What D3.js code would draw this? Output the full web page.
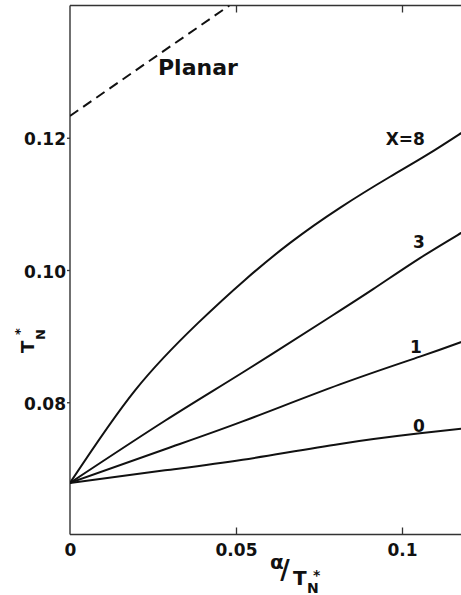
<!DOCTYPE html>
<html>
<head>
<meta charset="utf-8">
<script src="https://cdn.jsdelivr.net/npm/d3@7.9.0/dist/d3.min.js"></script>
<style>
  html, body { margin: 0; padding: 0; background: #fff; }
  svg { display: block; }
  text { font-family: "DejaVu Sans", sans-serif; font-weight: bold; fill: #111; }
</style>
</head>
<body>
<svg id="chart" width="461" height="595"></svg>
<script>
// curves: [alpha / T_N*, T_N*]
const curveX8 = [[0, 0.0678], [0.0196, 0.0818], [0.0386, 0.0920], [0.0527, 0.0985], [0.0663, 0.1041],
  [0.0813, 0.1094], [0.0964, 0.1141], [0.1075, 0.1174], [0.1178, 0.1207], [0.12, 0.1214]];
const curveX3 = [[0, 0.0678], [0.0286, 0.0772], [0.0520, 0.0845], [0.0768, 0.0924], [0.0913, 0.0971],
  [0.1054, 0.1018], [0.1178, 0.1056], [0.12, 0.1063]];
const curveX1 = [[0, 0.0678], [0.0286, 0.0729], [0.0520, 0.0771], [0.0813, 0.0827], [0.1054, 0.0869],
  [0.1178, 0.0891], [0.12, 0.0895]];
const curveX0 = [[0, 0.0678], [0.0286, 0.0697], [0.0520, 0.0713], [0.0813, 0.0737], [0.1054, 0.0753],
  [0.1178, 0.0760], [0.12, 0.0761]];
const planar = [[0, 0.1233], [0.048, 0.14]];

const curveLabels = ['X=8', '3', '1', '0'];
const labelAnchors = [[0.1069, 0.1189], [0.1069, 0.1033], [0.1060, 0.0874], [0.1069, 0.0755]];
const planarLabel = 'Planar';

const xTicks = [0, 0.05, 0.1];
const yTicks = [0.08, 0.10, 0.12];

const svg = d3.select('#chart');

const x = d3.scaleLinear().domain([0, 0.12]).range([70, 468.4]);
const y = d3.scaleLinear().domain([0.06, 0.14]).range([534.5, 5.5]);

svg.append('defs').append('clipPath').attr('id', 'plot')
  .append('rect').attr('x', 70).attr('y', 5.5).attr('width', 398.4).attr('height', 529);

// frame
let frame = svg.append('g').attr('stroke', '#333').attr('stroke-width', 1.4).attr('fill', 'none');
frame.append('line').attr('x1', 70).attr('x2', 70).attr('y1', 5.5).attr('y2', 534.5);
frame.append('line').attr('x1', 70).attr('x2', 468.4).attr('y1', 5.5).attr('y2', 5.5);
frame.append('line').attr('x1', 70).attr('x2', 468.4).attr('y1', 534.5).attr('y2', 534.5);

// axes
let yAxis = svg.append('g').attr('transform', 'translate(70,0)')
  .call(d3.axisLeft(y).tickValues(yTicks).tickFormat(d3.format('.2f')).tickSize(3).tickPadding(1));

let xAxis = svg.append('g').attr('transform', 'translate(0,534.5)')
  .call(d3.axisBottom(x).tickValues(xTicks).tickFormat((d) => String(d)).tickSizeInner(-7).tickSizeOuter(0).tickPadding(9));
xAxis.selectAll('.tick').filter((d) => d === 0).select('line').remove();

let topAxis = svg.append('g').attr('transform', 'translate(0,5.5)')
  .call(d3.axisTop(x).tickValues([0.05, 0.1]).tickFormat('').tickSizeInner(-7).tickSizeOuter(0));

[yAxis, xAxis, topAxis].forEach((g) => {
  g.select('.domain').remove();
  g.selectAll('line').attr('stroke', '#333').attr('stroke-width', 1.3);
  g.selectAll('text').attr('font-size', 17).attr('font-family', '"DejaVu Sans", sans-serif')
    .attr('font-weight', 'bold').attr('fill', '#111');
});
yAxis.selectAll('text').attr('dy', '0.42em');

// curves
let line = d3.line().x((d) => x(d[0])).y((d) => y(d[1])).curve(d3.curveNatural);

let plot = svg.append('g').attr('clip-path', 'url(#plot)');

[curveX8, curveX3, curveX1, curveX0].forEach((pts) => {
  plot.append('path')
    .attr('d', line(pts))
    .attr('fill', 'none')
    .attr('stroke', '#111')
    .attr('stroke-width', 2);
});

plot.append('path')
  .attr('d', line(planar))
  .attr('fill', 'none')
  .attr('stroke', '#111')
  .attr('stroke-width', 2)
  .attr('stroke-dasharray', '10,6');

curveLabels.forEach((label, i) => {
  svg.append('text')
    .attr('x', x(labelAnchors[i][0]))
    .attr('y', y(labelAnchors[i][1]))
    .attr('text-anchor', 'end')
    .attr('font-size', 17)
    .text(label);
});

svg.append('text')
  .attr('x', x(0.0265))
  .attr('y', y(0.1295))
  .attr('font-size', 22)
  .text(planarLabel);

// y axis title: T*_N
let yTitle = svg.append('g').attr('transform', 'translate(34,353) rotate(-90)');
yTitle.append('text').attr('x', 0).attr('y', 0).attr('font-size', 18).text('T');
yTitle.append('text').attr('x', 13).attr('y', 11).attr('font-size', 13).text('N');
yTitle.append('text').attr('x', 18).attr('y', -10).attr('font-size', 13).text('*');

// x axis title: α/T*_N
let xTitle = svg.append('g');
xTitle.append('text').attr('x', 270).attr('y', 569).attr('font-size', 20).text('α');
xTitle.append('text').attr('x', 285).attr('y', 579).attr('text-anchor', 'middle')
  .attr('font-size', 26).attr('font-weight', 'normal').text('/');
xTitle.append('text').attr('x', 293).attr('y', 585).attr('font-size', 20).text('T');
xTitle.append('text').attr('x', 307).attr('y', 593).attr('font-size', 14).text('N');
xTitle.append('text').attr('x', 313).attr('y', 580).attr('font-size', 14).text('*');
</script>
</body>
</html>
